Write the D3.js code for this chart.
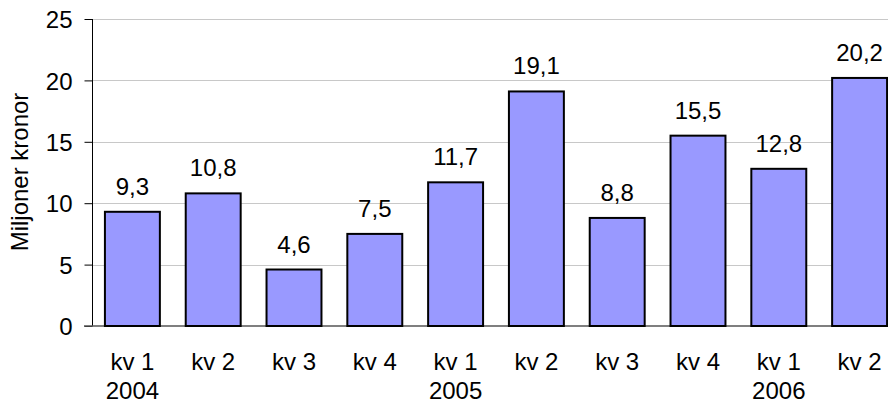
<!DOCTYPE html>
<html>
<head>
<meta charset="utf-8">
<script src="https://cdn.jsdelivr.net/npm/d3@7"></script>
<style>
  body { margin: 0; background: #fff; }
  svg text { font-family: "Liberation Sans", Arial, sans-serif; fill: #000; }
</style>
</head>
<body>
<div id="chart"></div>
<script>
const quarters = ["kv 1", "kv 2", "kv 3", "kv 4", "kv 1", "kv 2", "kv 3", "kv 4", "kv 1", "kv 2"]
const years = ["2004", "", "", "", "2005", "", "", "", "2006", ""]
const values = [9.3, 10.8, 4.6, 7.5, 11.7, 19.1, 8.8, 15.5, 12.8, 20.2]
const yTicks = [0, 5, 10, 15, 20, 25]

const width = 888, height = 404
const margin = { top: 19, left: 92, bottom: 78 }
const plotRight = 900 // plot runs a bit past the visible edge
const fontSize = 24

const svg = d3.select("#chart")
  .append("svg")
  .attr("width", width)
  .attr("height", height)

const x = d3.scaleBand()
  .domain(d3.range(values.length))
  .range([margin.left, plotRight])
  .paddingInner(0.32)
  .paddingOuter(0.16)

const y = d3.scaleLinear()
  .domain([0, 25])
  .range([height - margin.bottom, margin.top])

// gridlines
svg.append("g")
  .selectAll("line")
  .data(yTicks.filter(d => d > 0))
  .enter()
  .append("line")
  .attr("x1", margin.left)
  .attr("x2", plotRight)
  .attr("y1", d => Math.round(y(d)) + 0.5)
  .attr("y2", d => Math.round(y(d)) + 0.5)
  .attr("stroke", "#c8c8c8")
  .attr("stroke-width", 1)

// y axis
const yAxis = svg.append("g")
  .attr("transform", "translate(" + (margin.left + 0.5) + ",0)")
  .call(d3.axisLeft(y).tickValues(yTicks).tickSize(8).tickPadding(12))
yAxis.select(".domain").attr("stroke", "#000").attr("d", "M0," + y(25) + "V" + y(0))
yAxis.selectAll(".tick line").attr("stroke", "#000")
yAxis.selectAll(".tick text")
  .style("font-size", fontSize + "px")
  .attr("dy", "0.36em")

// baseline
svg.append("line")
  .attr("x1", margin.left - 8)
  .attr("x2", plotRight)
  .attr("y1", y(0))
  .attr("y2", y(0))
  .attr("stroke", "#555")
  .attr("stroke-width", 1.5)

// bars
svg.append("g")
  .selectAll("rect")
  .data(values)
  .enter()
  .append("rect")
  .attr("x", (d, i) => x(i))
  .attr("y", d => y(d))
  .attr("width", x.bandwidth())
  .attr("height", d => y(0) - y(d))
  .attr("fill", "#9999ff")
  .attr("stroke", "#000")
  .attr("stroke-width", 2)

// value labels
svg.append("g")
  .selectAll("text")
  .data(values)
  .enter()
  .append("text")
  .attr("x", (d, i) => x(i) + x.bandwidth() / 2)
  .attr("y", d => y(d) - 17)
  .attr("text-anchor", "middle")
  .style("font-size", fontSize + "px")
  .text(d => d3.format(".1f")(d).replace(".", ","))

// category labels
svg.append("g")
  .selectAll("text")
  .data(quarters)
  .enter()
  .append("text")
  .attr("x", (d, i) => x(i) + x.bandwidth() / 2)
  .attr("y", 370)
  .attr("text-anchor", "middle")
  .style("font-size", fontSize + "px")
  .text(d => d)

svg.append("g")
  .selectAll("text")
  .data(years)
  .enter()
  .append("text")
  .attr("x", (d, i) => x(i) + x.bandwidth() / 2)
  .attr("y", 399)
  .attr("text-anchor", "middle")
  .style("font-size", fontSize + "px")
  .text(d => d)

// y title
svg.append("text")
  .attr("transform", "translate(28," + 172 + ") rotate(-90)")
  .attr("text-anchor", "middle")
  .style("font-size", fontSize + "px")
  .text("Miljoner kronor")
</script>
</body>
</html>
